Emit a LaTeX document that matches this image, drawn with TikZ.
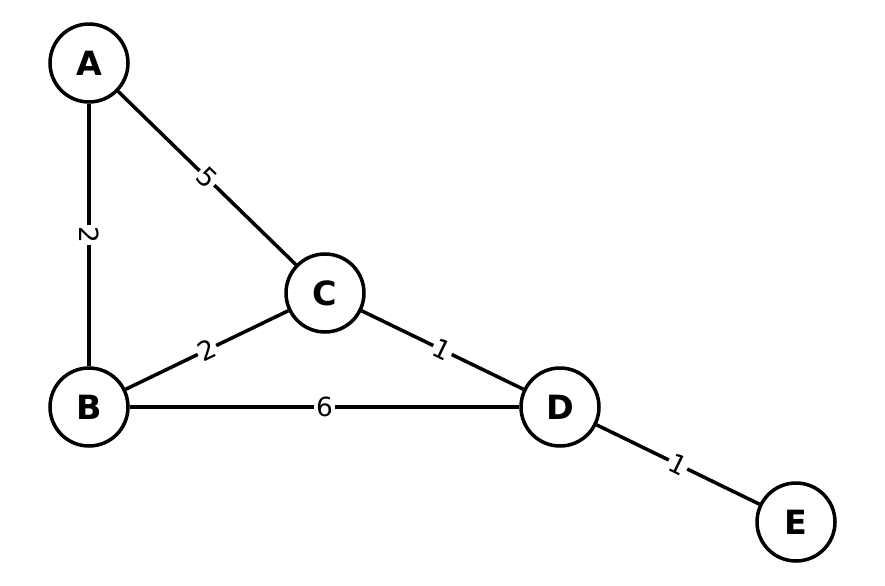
\documentclass[tikz,border=0pt]{standalone}
\usepackage{fontspec}
\setmainfont{DejaVu Sans}
\usepackage{tikz}
\usetikzlibrary{calc}
\tikzset{
    vertex/.style={circle, draw, line width=2pt, fill=white, minimum size=1.56cm, inner sep=0pt, font=\fontsize{19}{19}\selectfont\bfseries},
    edge/.style={line width=2pt},
    weight/.style={midway, sloped, fill=white, inner sep=1pt, font=\fontsize{15}{15}\selectfont}
}
\begin{document}
\begin{tikzpicture}[x=0.02cm, y=-0.02cm]
        \useasboundingbox (0,0) rectangle (885,585);

        \draw (89,63) node[vertex](a){A};
        \draw (89,407) node[vertex](b){B};
        \draw (325,293) node[vertex](c){C};
        \draw (560,407) node[vertex](d){D};
        \draw (796,522) node[vertex](e){E};

        \draw[edge] (a) to node[weight]{5} (c);
        \draw[edge] (a) to node[weight]{2} (b);
        \draw[edge] (b) to node[weight]{2} (c);
        \draw[edge] (c) to node[weight]{1} (d);
        \draw[edge] (b) to node[weight]{6} (d);
        \draw[edge] (d) to node[weight]{1} (e);
    \end{tikzpicture}
\end{document}
